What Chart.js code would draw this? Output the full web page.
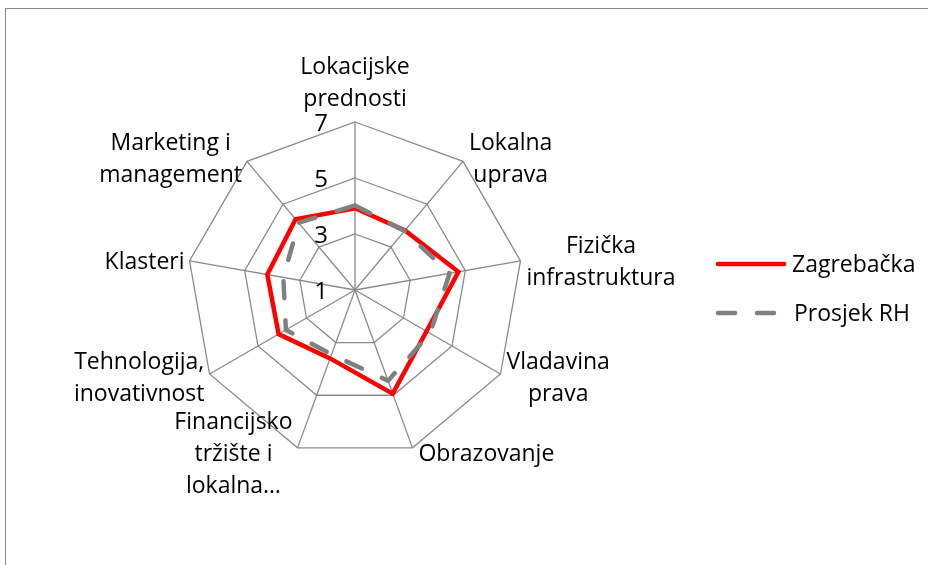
<!DOCTYPE html>
<html><head><meta charset="utf-8">
<script src="https://cdn.jsdelivr.net/npm/chart.js@4.4.0/dist/chart.umd.min.js"></script>
<style>
html,body{margin:0;padding:0;background:#fff;overflow:hidden;width:928px;height:565px;}
#frame{position:absolute;left:5px;top:8px;width:1000px;height:1000px;border:1px solid #8a8a8a;box-sizing:border-box;}
canvas{position:absolute;left:0;top:0;}
</style></head><body>
<div id="frame"></div>
<canvas id="c" width="928" height="565"></canvas>
<script>
const categories = [["Lokacijske","prednosti"],["Lokalna","uprava"],["Fizička","infrastruktura"],["Vladavina","prava"],["Obrazovanje"],["Financijsko","tržište i","lokalna…"],["Tehnologija,","inovativnost"],["Klasteri"],["Marketing i","management"]];
const zagrebacka = [3.92, 3.78, 4.75, 3.95, 4.94, 3.6, 4.15, 4.18, 4.3];
const prosjekRH = [4.02, 3.75, 4.43, 4.1, 4.45, 3.45, 3.85, 3.6, 4.13];
const tickValues = [1, 3, 5, 7];
const seriesNames = ["Zagrebačka", "Prosjek RH"];

const FONT = '"Open Sans", "DejaVu Sans", sans-serif';
const RED = '#FF0000', GRAY = '#808080';

const labelsPlugin = {
  id: 'customLabels',
  afterDraw(chart) {
    const ctx = chart.ctx;
    const scale = chart.scales.r;
    const outer = scale.drawingArea;
    ctx.save();
    ctx.fillStyle = '#000';
    // point labels
    ctx.font = '23px ' + FONT;
    const lh = 32;
    categories.forEach((lines, i) => {
      const p = scale.getPointPosition(i, outer);
      const ang = scale.getIndexAngle(i);
      const s = Math.sin(ang), c = Math.cos(ang);
      const w = Math.max(...lines.map(l => ctx.measureText(l).width));
      const h = lines.length * lh;
      let left, cy;
      if (Math.abs(s) < 0.01) { left = p.x - w / 2; cy = p.y - 7 - h / 2; }
      else if (s > 0) { left = p.x + 6; cy = p.y - 5 * c + 2; }
      else { left = p.x - 5 - w; cy = p.y - 5 * c + 2; }
      ctx.textAlign = 'center';
      ctx.textBaseline = 'middle';
      lines.forEach((l, k) => ctx.fillText(l, left + w / 2, cy - h / 2 + lh * (k + 0.5)));
    });
    // tick labels
    ctx.font = '24px ' + FONT;
    ctx.textAlign = 'right';
    ctx.textBaseline = 'middle';
    tickValues.forEach(v => {
      const d = scale.getDistanceFromCenterForValue(v);
      ctx.fillText(String(v), scale.xCenter - 27, scale.yCenter - d + 2);
    });
    // legend
    const lx0 = 718, lx1 = 784;
    const ys = [264, 313];
    ctx.lineCap = 'round';
    ctx.lineWidth = 4.5;
    ctx.strokeStyle = RED;
    ctx.setLineDash([]);
    ctx.beginPath(); ctx.moveTo(lx0, ys[0]); ctx.lineTo(lx1, ys[0]); ctx.stroke();
    ctx.strokeStyle = GRAY;
    ctx.setLineDash([17, 22]);
    ctx.beginPath(); ctx.moveTo(lx0, ys[1]); ctx.lineTo(776, ys[1]); ctx.stroke();
    ctx.setLineDash([]);
    ctx.font = '23px ' + FONT;
    ctx.textAlign = 'left';
    ctx.fillStyle = '#000';
    ctx.fillText(seriesNames[0], 792, ys[0] + 1);
    ctx.fillText(seriesNames[1], 794, ys[1] + 1);
    ctx.restore();
  }
};

new Chart(document.getElementById('c'), {
  type: 'radar',
  data: {
    labels: categories,
    datasets: [
      { label: seriesNames[0], data: zagrebacka, borderColor: RED, borderWidth: 4.5, fill: false, pointRadius: 0, pointHoverRadius: 0, tension: 0, order: 1 },
      { label: seriesNames[1], data: prosjekRH, borderColor: GRAY, borderWidth: 4.5, borderDash: [17, 22], borderCapStyle: 'round', fill: false, pointRadius: 0, pointHoverRadius: 0, tension: 0, order: 0 }
    ]
  },
  options: {
    responsive: false,
    animation: false,
    events: [],
    layout: { padding: { left: 187, top: 122, right: 405, bottom: 107 } },
    plugins: { legend: { display: false }, tooltip: { enabled: false } },
    scales: {
      r: {
        min: 1, max: 7,
        ticks: { stepSize: 2, display: false },
        pointLabels: { display: false },
        grid: { color: '#8a8a8a', lineWidth: 1.3, circular: false },
        angleLines: { color: '#8a8a8a', lineWidth: 1.3 }
      }
    }
  },
  plugins: [labelsPlugin]
});
</script>
</body></html>
